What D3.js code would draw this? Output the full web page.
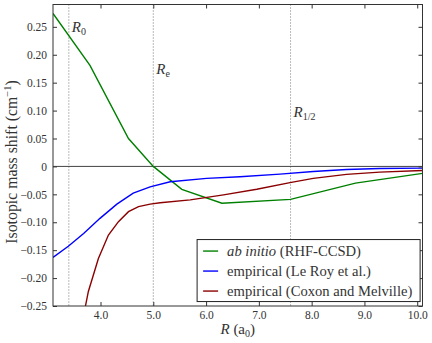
<!DOCTYPE html>
<html>
<head>
<meta charset="utf-8">
<script src="https://cdn.jsdelivr.net/npm/d3@7"></script>
<style>
  body { margin: 0; background: #fff; }
  svg text { font-family: "Liberation Serif", "DejaVu Serif", serif; fill: #333; }
</style>
</head>
<body>
<div id="chart"></div>
<script>
// ab initio (RHF-CCSD)
const abR = [3.1, 3.8, 4.53, 5.0, 5.54, 6.3, 7.6, 8.83, 10.1];
const abShift = [0.274, 0.181, 0.050, 0.0, -0.041, -0.066, -0.059, -0.030, -0.0125];

// empirical (Le Roy et al.)
const leRoyR = [3.1, 3.39, 3.68, 3.99, 4.31, 4.62, 4.94, 5.32, 6.01, 6.64, 7.4, 8.03, 8.66, 9.29, 10.1];
const leRoyShift = [-0.163, -0.143, -0.120, -0.093, -0.0675, -0.048, -0.0365, -0.0275, -0.0215, -0.0186, -0.0138, -0.009, -0.0054, -0.0036, -0.003];

// empirical (Coxon and Melville)
const coxonR = [3.69, 3.77, 3.96, 4.15, 4.34, 4.53, 4.72, 4.94, 5.13, 5.7, 6.33, 6.96, 7.59, 8.03, 8.66, 9.29, 10.1];
const coxonShift = [-0.262, -0.224, -0.165, -0.123, -0.099, -0.081, -0.072, -0.0675, -0.065, -0.060, -0.051, -0.041, -0.029, -0.0215, -0.0143, -0.0102, -0.0072];

const xTicks = [4, 5, 6, 7, 8, 9, 10];
const yTicks = [-0.25, -0.2, -0.15, -0.1, -0.05, 0, 0.05, 0.1, 0.15, 0.2, 0.25];

const markers = [
  {r: 3.4, name: "0", labelY: 0.24},
  {r: 5.0, name: "e", labelY: 0.165},
  {r: 7.6, name: "1/2", labelY: 0.088}
];

const series = [
  {name: "ab initio", rest: " (RHF-CCSD)", italic: true, color: "#008000", r: abR, v: abShift},
  {name: "empirical (Le Roy et al.)", rest: "", italic: false, color: "#0000ff", r: leRoyR, v: leRoyShift},
  {name: "empirical (Coxon and Melville)", rest: "", italic: false, color: "#8b0000", r: coxonR, v: coxonShift}
];

const W = 432, H = 343;
const margin = {top: 4.5, right: 9.5, bottom: 37, left: 53};
const width = W - margin.left - margin.right;
const height = H - margin.top - margin.bottom;

const svg = d3.select("#chart").append("svg")
  .attr("width", W)
  .attr("height", H);

const g = svg.append("g")
  .attr("transform", `translate(${margin.left},${margin.top})`);

const x = d3.scaleLinear().domain([3.1, 10.1]).range([0, width]);
const y = d3.scaleLinear().domain([-0.25, 0.29]).range([height, 0]);

g.append("clipPath").attr("id", "clip")
  .append("rect").attr("width", width).attr("height", height);

// dotted markers
markers.forEach(m => {
  g.append("line")
    .attr("x1", x(m.r)).attr("x2", x(m.r))
    .attr("y1", 0).attr("y2", height)
    .attr("stroke", "#555").attr("stroke-width", 0.8)
    .attr("stroke-dasharray", "1,2");
  const t = g.append("text")
    .attr("x", x(m.r) + 3)
    .attr("y", y(m.labelY))
    .attr("font-size", 15);
  t.append("tspan").attr("font-style", "italic").text("R");
  t.append("tspan").attr("font-size", 10).attr("dy", 3).text(m.name);
});

// zero line
g.append("line")
  .attr("x1", 0).attr("x2", width)
  .attr("y1", y(0)).attr("y2", y(0))
  .attr("stroke", "#444").attr("stroke-width", 1);

const line = d3.line()
  .x(d => x(d[0]))
  .y(d => y(d[1]));

series.forEach(s => {
  g.append("path")
    .datum(s.r.map((r, i) => [r, s.v[i]]))
    .attr("clip-path", "url(#clip)")
    .attr("fill", "none")
    .attr("stroke", s.color)
    .attr("stroke-width", 1.4)
    .attr("d", line);
});

// axes with inward ticks on all sides
const axisStyle = sel => {
  sel.select(".domain").remove();
  sel.selectAll(".tick line").attr("stroke", "#333");
  sel.selectAll("text").attr("font-size", 11.5).attr("fill", "#444")
    .style("font-family", "'Liberation Serif', serif");
};

g.append("g").attr("transform", `translate(0,${height})`)
  .call(d3.axisBottom(x).tickValues(xTicks).tickSizeInner(-4).tickSizeOuter(0).tickPadding(5).tickFormat(d3.format(".1f")))
  .call(axisStyle);
g.append("g")
  .call(d3.axisTop(x).tickValues(xTicks).tickSizeInner(-4).tickSizeOuter(0).tickFormat(""))
  .call(axisStyle);
g.append("g")
  .call(d3.axisLeft(y).tickValues(yTicks).tickSizeInner(-4).tickSizeOuter(0).tickPadding(6)
    .tickFormat(d => d === 0 ? "0" : d3.format(".2f")(d)))
  .call(axisStyle);
g.append("g").attr("transform", `translate(${width},0)`)
  .call(d3.axisRight(y).tickValues(yTicks).tickSizeInner(-4).tickSizeOuter(0).tickFormat(""))
  .call(axisStyle);

// frame
g.append("rect")
  .attr("width", width).attr("height", height)
  .attr("fill", "none").attr("stroke", "#333").attr("stroke-width", 1);

// legend
const lg = g.append("g").attr("transform", `translate(${x(5.83)},${y(-0.131)})`);
lg.append("rect")
  .attr("width", 223).attr("height", 62)
  .attr("fill", "#fff").attr("stroke", "#222").attr("stroke-width", 1);
series.forEach((s, i) => {
  const yy = 11.5 + i * 20;
  lg.append("line")
    .attr("x1", 6).attr("x2", 21).attr("y1", yy).attr("y2", yy)
    .attr("stroke", s.color).attr("stroke-width", 1.4);
  const t = lg.append("text").attr("x", 30).attr("y", yy + 4.5).attr("font-size", 14.6);
  t.append("tspan").attr("font-style", s.italic ? "italic" : "normal").text(s.name);
  if (s.rest) t.append("tspan").text(s.rest);
});

// axis titles
svg.append("text")
  .attr("x", margin.left + width / 2)
  .attr("y", 334)
  .attr("text-anchor", "middle")
  .attr("font-size", 15)
  .call(t => {
    t.append("tspan").attr("font-style", "italic").text("R");
    t.append("tspan").text(" (a");
    t.append("tspan").attr("font-size", 10).attr("dy", 3).text("0");
    t.append("tspan").attr("dy", -3).text(")");
  });

svg.append("text")
  .attr("transform", `translate(17,162) rotate(-90)`)
  .attr("text-anchor", "middle")
  .attr("font-size", 15.8)
  .call(t => {
    t.append("tspan").text("Isotopic mass shift (cm");
    t.append("tspan").attr("font-size", 10.5).attr("dy", -6).text("\u22121");
    t.append("tspan").attr("dy", 6).text(")");
  });
</script>
</body>
</html>
